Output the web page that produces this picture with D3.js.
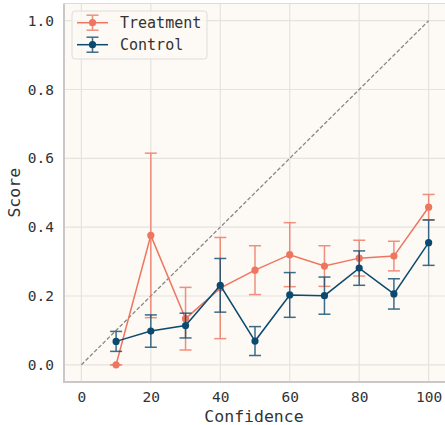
<!DOCTYPE html>
<html>
<head>
<meta charset="utf-8">
<script src="https://cdn.jsdelivr.net/npm/d3@7"></script>
<style>
  html, body { margin: 0; padding: 0; background: #ffffff; }
  svg { display: block; }
  text { font-family: "DejaVu Sans Mono", monospace; fill: #333; }
</style>
</head>
<body>
<svg id="chart" width="445" height="425"></svg>
<script>
// Confidence bins
const confidence = [10, 20, 30, 40, 50, 60, 70, 80, 90, 100];

// Mean score per bin and half-width of the error bar
const treatmentScore = [0.000, 0.376, 0.134, 0.223, 0.275, 0.320, 0.287, 0.310, 0.316, 0.458];
const treatmentErr   = [0.000, 0.239, 0.091, 0.147, 0.071, 0.093, 0.059, 0.052, 0.043, 0.037];
const controlScore   = [0.068, 0.098, 0.114, 0.231, 0.069, 0.203, 0.201, 0.281, 0.206, 0.355];
const controlErr     = [0.029, 0.047, 0.036, 0.078, 0.042, 0.065, 0.054, 0.050, 0.044, 0.066];

const xTicks = [0, 20, 40, 60, 80, 100];
const yTicks = [0.0, 0.2, 0.4, 0.6, 0.8, 1.0];

const series = [
  { name: "Treatment", color: "#ee7560", values: treatmentScore, errors: treatmentErr },
  { name: "Control",   color: "#0b4a6e", values: controlScore,   errors: controlErr }
];

const svg = d3.select("#chart");
const plot = { left: 64, right: 446, top: 3.5, bottom: 382 };

const x = d3.scaleLinear().domain([-5, 105]).range([plot.left, plot.right]);
const y = d3.scaleLinear().domain([-0.05, 1.05]).range([plot.bottom, plot.top]);

// Axes background
svg.append("rect")
  .attr("x", plot.left).attr("y", plot.top)
  .attr("width", plot.right - plot.left).attr("height", plot.bottom - plot.top)
  .attr("fill", "#fdf9f4");

// Grid
const grid = svg.append("g").attr("stroke", "#e6e2de").attr("stroke-width", 1.2);
grid.selectAll("line.gx").data(xTicks).join("line")
  .attr("x1", d => x(d)).attr("x2", d => x(d))
  .attr("y1", plot.top).attr("y2", plot.bottom);
grid.selectAll("line.gy").data(yTicks).join("line")
  .attr("x1", plot.left).attr("x2", plot.right)
  .attr("y1", d => y(d)).attr("y2", d => y(d));

// Spines
svg.append("line").attr("x1", plot.left).attr("x2", plot.right)
  .attr("y1", plot.top).attr("y2", plot.top)
  .attr("stroke", "#dcdcdc").attr("stroke-width", 1);
svg.append("line").attr("x1", plot.left).attr("x2", plot.left)
  .attr("y1", plot.top).attr("y2", plot.bottom + 1)
  .attr("stroke", "#c8c8c8").attr("stroke-width", 2);
svg.append("line").attr("x1", plot.left - 1).attr("x2", plot.right)
  .attr("y1", plot.bottom).attr("y2", plot.bottom)
  .attr("stroke", "#c8c8c8").attr("stroke-width", 2);

// Axes (labels only, no tick marks)
const xAxis = svg.append("g")
  .attr("transform", `translate(0,${plot.bottom})`)
  .call(d3.axisBottom(x).tickValues(xTicks).tickFormat(d3.format("d")).tickSize(0).tickPadding(10));
const yAxis = svg.append("g")
  .attr("transform", `translate(${plot.left},0)`)
  .call(d3.axisLeft(y).tickValues(yTicks).tickFormat(d3.format(".1f")).tickSize(0).tickPadding(10));
[xAxis, yAxis].forEach(a => {
  a.select(".domain").remove();
  a.selectAll("text")
    .attr("font-family", "DejaVu Sans Mono, monospace")
    .attr("font-size", 14.5).attr("fill", "#333");
});

svg.append("text").attr("x", (plot.left + plot.right) / 2 - 1).attr("y", 422)
  .attr("text-anchor", "middle").attr("font-size", 16.5).text("Confidence");
svg.append("text").attr("transform", `translate(20,${(plot.top + plot.bottom) / 2}) rotate(-90)`)
  .attr("text-anchor", "middle").attr("font-size", 16.5).text("Score");

// Perfect calibration reference
svg.append("line")
  .attr("x1", x(0)).attr("y1", y(0)).attr("x2", x(100)).attr("y2", y(1))
  .attr("stroke", "#888").attr("stroke-width", 1.3).attr("stroke-dasharray", "4,2");

// Series: error bars, connecting line, markers
const capHalf = 6;
series.forEach(s => {
  const g = svg.append("g");
  const pts = confidence.map((c, i) => ({ c, v: s.values[i], e: s.errors[i] }));
  const eb = g.append("g").attr("stroke", s.color).attr("stroke-width", 1.5).attr("opacity", 0.8);
  eb.selectAll("line.v").data(pts).join("line")
    .attr("x1", d => x(d.c)).attr("x2", d => x(d.c))
    .attr("y1", d => y(d.v - d.e)).attr("y2", d => y(d.v + d.e));
  eb.selectAll("line.t").data(pts).join("line")
    .attr("x1", d => x(d.c) - capHalf).attr("x2", d => x(d.c) + capHalf)
    .attr("y1", d => y(d.v + d.e)).attr("y2", d => y(d.v + d.e));
  eb.selectAll("line.b").data(pts).join("line")
    .attr("x1", d => x(d.c) - capHalf).attr("x2", d => x(d.c) + capHalf)
    .attr("y1", d => y(d.v - d.e)).attr("y2", d => y(d.v - d.e));
  g.append("path").datum(pts)
    .attr("fill", "none").attr("stroke", s.color).attr("stroke-width", 1.5)
    .attr("d", d3.line().x(d => x(d.c)).y(d => y(d.v)));
  g.selectAll("circle").data(pts).join("circle")
    .attr("cx", d => x(d.c)).attr("cy", d => y(d.v)).attr("r", 3.6)
    .attr("fill", s.color);
});

// Legend
const legend = svg.append("g");
legend.append("rect")
  .attr("x", 72).attr("y", 11).attr("width", 135).attr("height", 48).attr("rx", 3)
  .attr("fill", "#fdf9f4").attr("fill-opacity", 0.8)
  .attr("stroke", "#dedede").attr("stroke-width", 1);
series.forEach((s, i) => {
  const cy = 22.7 + i * 22;
  const cx = 92.5;
  const row = legend.append("g");
  row.append("line").attr("x1", 77).attr("x2", 108).attr("y1", cy).attr("y2", cy)
    .attr("stroke", s.color).attr("stroke-width", 1.5);
  const eb = row.append("g").attr("stroke", s.color).attr("stroke-width", 1.5).attr("opacity", 0.8);
  eb.append("line").attr("x1", cx).attr("x2", cx).attr("y1", cy - 7.5).attr("y2", cy + 7.5);
  eb.append("line").attr("x1", cx - 6).attr("x2", cx + 6).attr("y1", cy - 7.5).attr("y2", cy - 7.5);
  eb.append("line").attr("x1", cx - 6).attr("x2", cx + 6).attr("y1", cy + 7.5).attr("y2", cy + 7.5);
  row.append("circle").attr("cx", cx).attr("cy", cy).attr("r", 3.6).attr("fill", s.color);
  row.append("text").attr("x", 120).attr("y", cy + 5).attr("font-size", 15).text(s.name);
});
</script>
</body>
</html>
